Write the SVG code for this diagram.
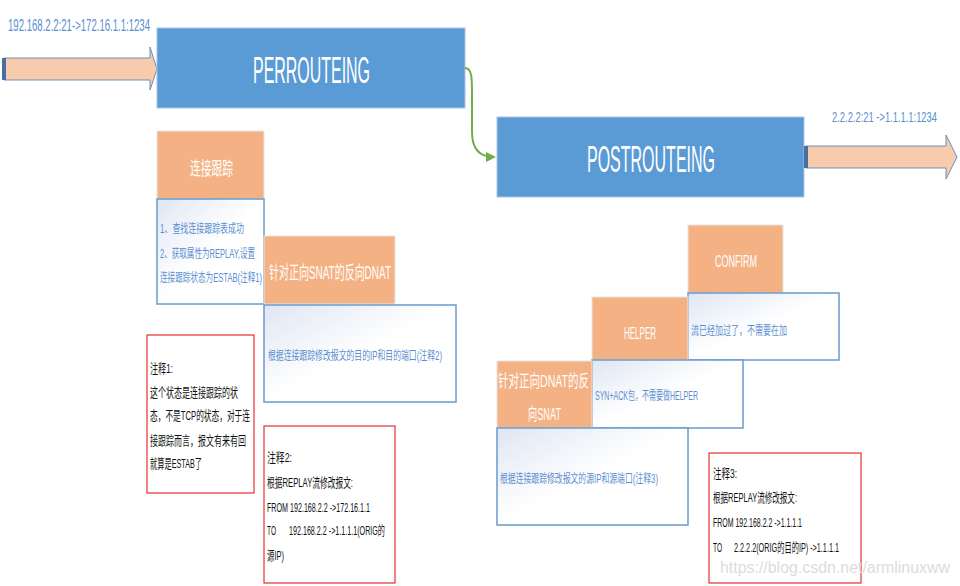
<svg xmlns="http://www.w3.org/2000/svg" width="960" height="586" viewBox="0 0 960 586">
<defs>
<linearGradient id="wg" x1="0" y1="0" x2="1" y2="1">
<stop offset="0" stop-color="#dfe6f3"/>
<stop offset="0.5" stop-color="#ffffff"/>
<stop offset="1" stop-color="#ffffff"/>
</linearGradient>
<marker id="ga" viewBox="0 0 10 10" refX="8" refY="5" markerWidth="5" markerHeight="5" orient="auto">
<path d="M0,0 L10,5 L0,10 z" fill="#70ad47"/>
</marker>
<style>
.blue{fill:#5b9bd5;stroke:#a9c4e4;stroke-width:1}
.org{fill:#f4b183;stroke:#e6e6e6;stroke-width:1}
.wb{fill:url(#wg);stroke:#6b9bcb;stroke-width:1.5}
.red{fill:#fff;stroke:#e83030;stroke-width:1.2}
.arr{fill:#f8cbad;stroke:#6b8fbd;stroke-width:1}
.t{font-family:"Liberation Sans","Noto Sans CJK SC",sans-serif}
.wt{fill:#ffffff}
.bt{fill:#5b8fd0}
.kt{fill:#111111}
</style>
</defs>
<rect width="960" height="586" fill="#ffffff"/>

<g id="in-arrow">
<path class="arr" d="M4,58 L150,58 L150,47 L157,69 L150,90 L150,80 L4,80 z"/>
<rect x="2" y="58" width="4" height="22" fill="#4a6f9c"/>
<text class="t bt" x="8" y="31" font-size="17" textLength="142" lengthAdjust="spacingAndGlyphs">192.168.2.2:21-&gt;172.16.1.1:1234</text>
</g>

<g id="perrouteing">
<rect class="blue" x="157" y="28" width="308" height="80"/>
<text class="t wt" x="253" y="83" font-size="36" textLength="117" lengthAdjust="spacingAndGlyphs">PERROUTEING</text>
</g>

<g id="postrouteing">
<rect class="blue" x="497" y="117" width="307" height="80"/>
<text class="t wt" x="587" y="172" font-size="36" textLength="128" lengthAdjust="spacingAndGlyphs">POSTROUTEING</text>
</g>

<g id="out-arrow">
<path class="arr" d="M806,146 L946,146 L946,135 L957,157 L946,179 L946,168 L806,168 z"/>
<rect x="804" y="146" width="4" height="22" fill="#4a6f9c"/>
<text class="t bt" x="832" y="122" font-size="15" textLength="105" lengthAdjust="spacingAndGlyphs">2.2.2.2:21 -&gt;1.1.1.1:1234</text>
</g>

<g id="connectors">
<path d="M465,68 C472,68 472,78 472,95 L472,132 C472,150 480,157 494,157" fill="none" stroke="#70ad47" stroke-width="2" marker-end="url(#ga)"/>
</g>

<g id="conntrack">
<rect class="org" x="157" y="131" width="107" height="68"/>
<text class="t wt" x="190" y="175" font-size="18" textLength="43" lengthAdjust="spacingAndGlyphs">连接跟踪</text>
<rect class="wb" x="157" y="199" width="107" height="105"/>
<text class="t bt" x="160" y="233" font-size="12" textLength="84" lengthAdjust="spacingAndGlyphs">1、查找连接跟踪表成功</text>
<text class="t bt" x="160" y="258" font-size="12" textLength="95" lengthAdjust="spacingAndGlyphs">2、获取属性为REPLAY,设置</text>
<text class="t bt" x="160" y="282" font-size="12" textLength="102" lengthAdjust="spacingAndGlyphs">连接跟踪状态为ESTAB(注释1)</text>
</g>

<g id="dnat">
<rect class="org" x="264" y="236" width="131" height="68"/>
<text class="t wt" x="269" y="279" font-size="18" textLength="122" lengthAdjust="spacingAndGlyphs">针对正向SNAT的反向DNAT</text>
<rect class="wb" x="264" y="305" width="192" height="97"/>
<text class="t bt" x="268" y="360" font-size="12" textLength="174" lengthAdjust="spacingAndGlyphs">根据连接跟踪修改报文的目的IP和目的端口(注释2)</text>
</g>

<g id="note1">
<rect class="red" x="147" y="335" width="107" height="158"/>
<text class="t kt" x="150" y="373" font-size="13" textLength="23" lengthAdjust="spacingAndGlyphs">注释1:</text>
<text class="t kt" x="150" y="397" font-size="13" textLength="88" lengthAdjust="spacingAndGlyphs">这个状态是连接跟踪的状</text>
<text class="t kt" x="150" y="420" font-size="13" textLength="100" lengthAdjust="spacingAndGlyphs">态，不是TCP的状态，对于连</text>
<text class="t kt" x="150" y="445" font-size="13" textLength="96" lengthAdjust="spacingAndGlyphs">接跟踪而言，报文有来有回</text>
<text class="t kt" x="150" y="468" font-size="13" textLength="52" lengthAdjust="spacingAndGlyphs">就算是ESTAB了</text>
</g>

<g id="note2">
<rect class="red" x="264" y="426" width="131" height="157"/>
<text class="t kt" x="267" y="462" font-size="13" textLength="25" lengthAdjust="spacingAndGlyphs">注释2:</text>
<text class="t kt" x="267" y="487" font-size="13" textLength="86" lengthAdjust="spacingAndGlyphs">根据REPLAY流修改报文:</text>
<text class="t kt" x="267" y="512" font-size="13" textLength="103" lengthAdjust="spacingAndGlyphs">FROM 192.168.2.2 -&gt;172.16.1.1</text>
<text class="t kt" x="267" y="535" font-size="13" textLength="9" lengthAdjust="spacingAndGlyphs">TO</text>
<text class="t kt" x="289" y="535" font-size="13" textLength="96" lengthAdjust="spacingAndGlyphs">192.168.2.2 -&gt;1.1.1.1(ORIG的</text>
<text class="t kt" x="267" y="560" font-size="13" textLength="17" lengthAdjust="spacingAndGlyphs">源IP)</text>
</g>

<g id="confirm">
<rect class="org" x="688" y="225" width="95" height="68"/>
<text class="t wt" x="715" y="267" font-size="16" textLength="42" lengthAdjust="spacingAndGlyphs">CONFIRM</text>
<rect class="wb" x="688" y="293" width="151" height="67"/>
<text class="t bt" x="691" y="335" font-size="12" textLength="96" lengthAdjust="spacingAndGlyphs">流已经加过了，不需要在加</text>
</g>

<g id="helper">
<rect class="org" x="592" y="297" width="96" height="63"/>
<text class="t wt" x="624" y="339" font-size="16" textLength="32" lengthAdjust="spacingAndGlyphs">HELPER</text>
<rect class="wb" x="592" y="360" width="151" height="68"/>
<text class="t bt" x="595" y="400" font-size="12" textLength="103" lengthAdjust="spacingAndGlyphs">SYN+ACK包，不需要做HELPER</text>
</g>

<g id="snat">
<rect class="org" x="497" y="361" width="95" height="67"/>
<text class="t wt" x="498" y="387" font-size="17" textLength="91" lengthAdjust="spacingAndGlyphs">针对正向DNAT的反</text>
<text class="t wt" x="528" y="420" font-size="17" textLength="33" lengthAdjust="spacingAndGlyphs">向SNAT</text>
<rect class="wb" x="497" y="428" width="191" height="97"/>
<text class="t bt" x="500" y="483" font-size="12" textLength="158" lengthAdjust="spacingAndGlyphs">根据连接跟踪修改报文的源IP和源端口(注释3)</text>
</g>

<g id="note3">
<rect class="red" x="709" y="453" width="152" height="130"/>
<text class="t kt" x="713" y="478" font-size="13" textLength="24" lengthAdjust="spacingAndGlyphs">注释3:</text>
<text class="t kt" x="713" y="502" font-size="13" textLength="84" lengthAdjust="spacingAndGlyphs">根据REPLAY流修改报文:</text>
<text class="t kt" x="713" y="527" font-size="13" textLength="89" lengthAdjust="spacingAndGlyphs">FROM 192.168.2.2 -&gt;1.1.1.1</text>
<text class="t kt" x="713" y="552" font-size="13" textLength="9" lengthAdjust="spacingAndGlyphs">TO</text>
<text class="t kt" x="734" y="552" font-size="13" textLength="105" lengthAdjust="spacingAndGlyphs">2.2.2.2(ORIG的目的IP) -&gt;1.1.1.1</text>
</g>

<text class="t" x="720" y="573" font-size="16" fill="#dcdcdc" textLength="230" lengthAdjust="spacingAndGlyphs">https://blog.csdn.net/armlinuxww</text>
</svg>
